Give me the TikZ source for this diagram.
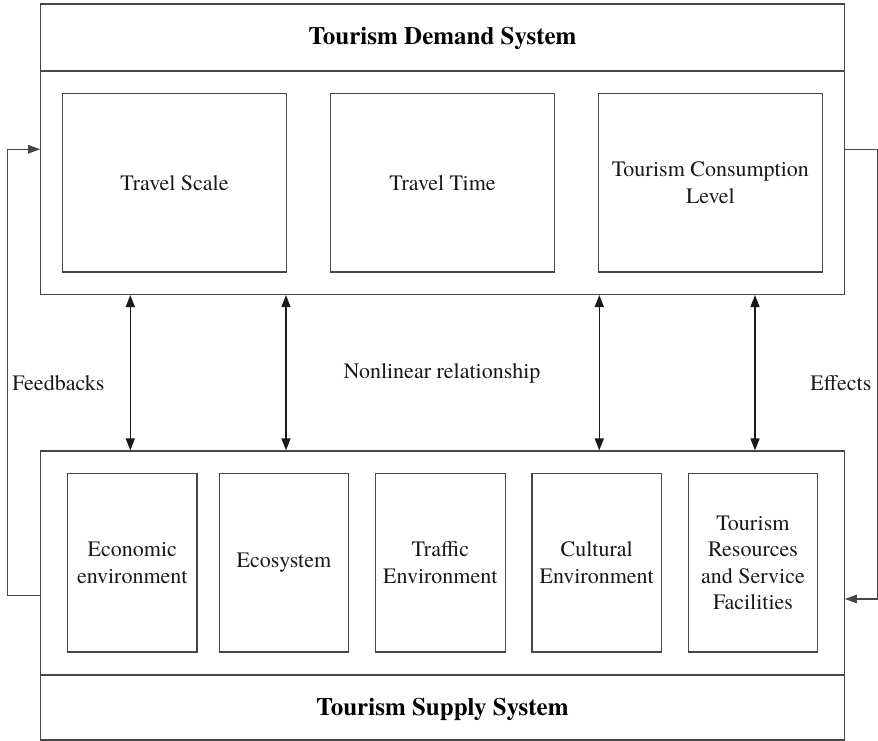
\documentclass[tikz,border=0pt]{standalone}
\usepackage{fontspec}
\setmainfont{texgyretermes}[Extension=.otf,UprightFont=*-regular,BoldFont=*-bold,ItalicFont=*-italic,BoldItalicFont=*-bolditalic]
\usetikzlibrary{arrows.meta}
\begin{document}
\begin{tikzpicture}[x=1pt,y=-1pt,
  line width=1.2pt,
  lncol/.style={draw=black!72},
  outerbox/.style={lncol,inner sep=0pt,minimum width=803.6pt,anchor=center},
  demitem/.style={lncol,inner sep=0pt,minimum width=223.5pt,minimum height=178.5pt,
    anchor=center,align=center,font=\fontsize{22}{26.5}\selectfont,text=black!90},
  supitem/.style={lncol,inner sep=0pt,minimum width=129.5pt,minimum height=178.7pt,
    anchor=center,align=center,font=\fontsize{22}{26.5}\selectfont,text=black!90},
  titletxt/.style={anchor=base,font=\fontsize{25}{30}\selectfont\bfseries,text=black,inner sep=0pt},
  labtxt/.style={anchor=base,font=\fontsize{22}{26.5}\selectfont,text=black!90,inner sep=0pt},
  conn/.style={lncol,-{Triangle[length=12pt,width=8.5pt]}},
  dconn/.style={draw=black!90,line width=1.5pt,{Triangle[length=12pt,width=9pt]}-{Triangle[length=12pt,width=9pt]}}
]
\useasboundingbox (0,0) rectangle (878,741);
\fill[white] (0,0) rectangle (878,741);

% outer system boxes
\node[outerbox,minimum height=290.5pt] (dem) at (442.5,149.25) {};
\node[outerbox,minimum height=289pt] (sup) at (442.5,595.5) {};

% header / footer separators
\coordinate (dsep) at (0,71);
\coordinate (ssep) at (0,675);
\draw[lncol] (dem.west |- dsep) -- (dem.east |- dsep);
\draw[lncol] (sup.west |- ssep) -- (sup.east |- ssep);

% titles
\node[titletxt] (demtitle) at (442.5,45) {Tourism Demand System};
\node[titletxt] (suptitle) at (442.5,715) {Tourism Supply System};

% demand items
\node[demitem] (ts) at (174.5,182.75) {Travel Scale};
\node[demitem] (tt) at (442.5,182.75) {Travel Time};
\node[demitem] (tc) at (710.4,182.75) {Tourism Consumption\\Level};

% supply items
\node[supitem] (econ) at (132.3,562.65) {Economic\\environment};
\node[supitem] (eco) at (283.9,562.65) {Ecosystem};
\node[supitem] (traf) at (440.35,562.65) {Traffic\\Environment};
\node[supitem] (cult) at (596.7,562.65) {Cultural\\Environment};
\node[supitem] (res) at (753,562.65) {Tourism\\Resources\\and Service\\Facilities};

% nonlinear relationship arrows
\coordinate (a1) at (130.3,0);
\coordinate (a2) at (286,0);
\coordinate (a3) at (599.3,0);
\coordinate (a4) at (755,0);
\foreach \c in {a1,a2,a3,a4}{
  \draw[dconn] (dem.south -| \c) -- (sup.north -| \c);
}

% feedback loop
\coordinate (fbl) at (7.3,595.7);
\draw[conn] (fbl -| sup.west) -- (fbl) |- (dem.west);

% effects loop
\coordinate (efr) at (877.4,599);
\draw[conn] (dem.east) -| (efr) -- (efr -| sup.east);

% labels
\node[labtxt] (fbtxt) at (58.4,390.5) {Feedbacks};
\node[labtxt] (eftxt) at (840.9,390.7) {Effects};
\node[labtxt] (nltxt) at (442,378.3) {Nonlinear relationship};
\end{tikzpicture}
\end{document}
